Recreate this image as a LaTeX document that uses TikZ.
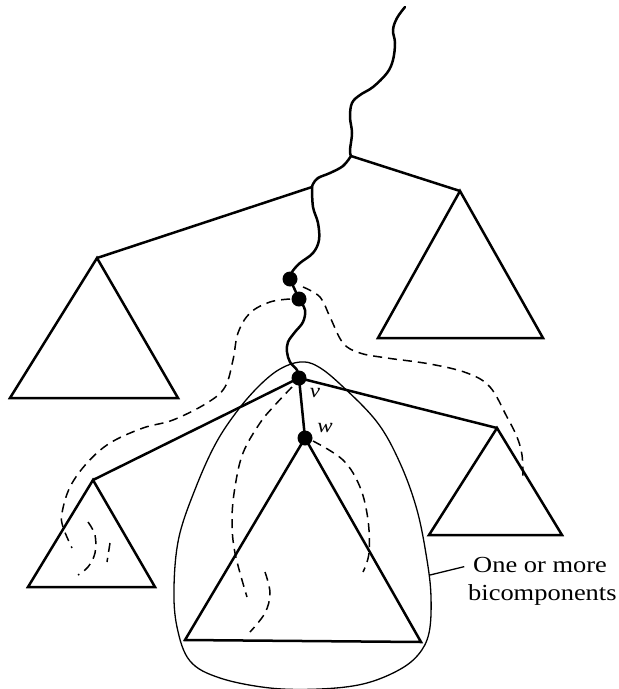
\documentclass[tikz,border=0pt]{standalone}
\usepackage{fontspec}
\setmainfont{Liberation Serif}[FakeStretch=1.15]
\begin{document}
\begin{tikzpicture}[x=1pt,y=-1pt,
  edge/.style={line width=2.5pt,line join=round,line cap=round},
  tri/.style={line width=2.5pt,line join=miter},
  wig/.style={line width=2.5pt,line cap=round},
  back/.style={line width=1.5pt,dash pattern=on 9pt off 6pt},
  bubble/.style={line width=1.3pt},
  dotnode/.style={circle,fill=black,inner sep=0pt,minimum size=15pt},
  lab/.style={font=\fontsize{20}{20}\selectfont\itshape,inner sep=0pt},
  txt/.style={font=\fontsize{23}{28}\selectfont,inner sep=0pt,anchor=base west}]
\useasboundingbox (0,0) rectangle (619,689);

% junctions and dots
\coordinate (J1) at (351,156);
\coordinate (J2) at (312,187);
\node[dotnode] (d1) at (290,279) {};
\node[dotnode] (d2) at (299,299) {};
\node[dotnode] (v) at (299,378) {};
\node[dotnode] (w) at (305,438) {};
\node[lab] (vl) at (315,393) {v};
\node[lab] (wl) at (325,428) {w};

% triangles
\coordinate (RA) at (460,191); \coordinate (RB) at (378,338); \coordinate (RC) at (543,338);
\coordinate (LA) at (97,258);  \coordinate (LB) at (10,398);  \coordinate (LC) at (178,398);
\coordinate (SA) at (93,480);  \coordinate (SB) at (28,587);  \coordinate (SC) at (155,587);
\coordinate (TA) at (497,428); \coordinate (TB) at (429,535); \coordinate (TC) at (562,535);
\coordinate (MB) at (185,640); \coordinate (MC) at (421,642);

\draw[tri] (RA) -- (RB) -- (RC) -- cycle;
\draw[tri] (LA) -- (LB) -- (LC) -- cycle;
\draw[tri] (SA) -- (SB) -- (SC) -- cycle;
\draw[tri] (TA) -- (TB) -- (TC) -- cycle;
\draw[tri] (w.center) -- (MB) -- (MC) -- cycle;

% tree edges
\draw[edge] (J1) -- (RA);
\draw[edge] (J2) -- (LA);
\draw[edge] (v.center) -- (SA);
\draw[edge] (v.center) -- (TA);
\draw[edge] (v.center) -- (w.center);

% wiggly path
\draw[wig] plot[smooth,tension=0.6] coordinates {(405,7) (397,18) (393,30) (395,43) (393,60) (387,73) (373,87) (360,95) (352,103) (350,117) (352,133) (350,150) (351,156)};
\draw[wig] plot[smooth,tension=0.6] coordinates {(351,156) (343,166) (330,173) (318,178) (313,184) (312,187)};
\draw[wig] plot[smooth,tension=0.6] coordinates {(312,187) (313,207) (318,223) (319,240) (313,253) (300,263) (292,272) (290,279)};
\draw[wig] (d1.center) -- (d2.center);
\draw[wig] plot[smooth,tension=0.6] coordinates {(299,299) (305,310) (303,322) (295,332) (288,342) (287,352) (290,362) (297,370) (299,377)};

% bubble
\draw[bubble] plot[smooth cycle,tension=0.6] coordinates {(300,362) (317,366) (340,384) (377,422) (400,463) (417,510) (427,560) (431,597) (429,633) (418,655) (397,671) (363,684) (320,689) (270,688) (220,678) (190,661) (177,627) (174,587) (179,537) (196,487) (216,443) (238,410) (260,385) (280,369)};
\coordinate (bp) at (430,575);

% dashed back edges
\draw[back] plot[smooth,tension=0.6] coordinates {(290,299) (270,302) (250,313) (238,333) (233,360) (225,387) (207,403) (173,420) (143,428) (110,443) (87,463) (70,487) (62,513) (63,527) (72,548)};
\draw[back] plot[smooth,tension=0.6] coordinates {(88,522) (95,535) (95,553) (88,567) (78,575)};
\draw[back] plot[smooth,tension=0.6] coordinates {(110,543) (107,562)};
\draw[back] plot[smooth,tension=0.6] coordinates {(303,287) (320,297) (330,317) (343,343) (360,353) (387,358) (430,364) (467,373) (490,387) (507,417) (517,437) (522,455) (523,477)};
\draw[back] plot[smooth,tension=0.6] coordinates {(292,387) (275,405) (260,423) (243,453) (235,487) (232,520) (235,553) (247,597)};
\draw[back] plot[smooth,tension=0.6] coordinates {(265,572) (270,593) (265,613) (250,632)};
\draw[back] plot[smooth,tension=0.6] coordinates {(313,441) (343,460) (360,487) (368,520) (369,553) (363,572)};

% label
\node[txt] (la) at (473,572) {One or more};
\node[txt] (lb) at (468,600) {bicomponents};
\draw[bubble,shorten >=9pt] (bp) -- (la.west);
\end{tikzpicture}
\end{document}
